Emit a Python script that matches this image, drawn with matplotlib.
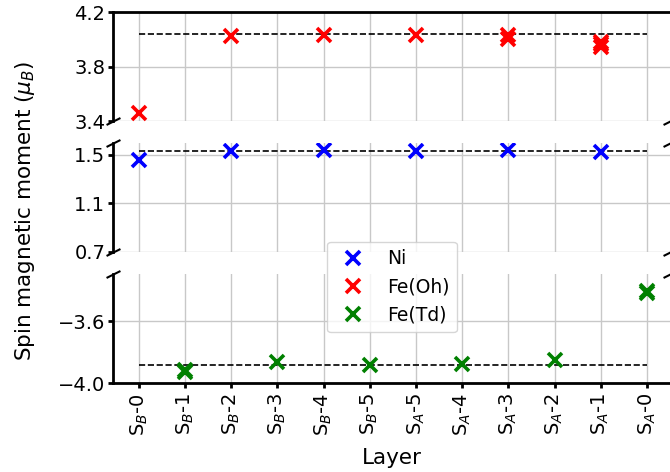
import matplotlib
matplotlib.use("Agg")
import matplotlib.pyplot as plt

# ---- data ----
layers = ["S$_B$-0", "S$_B$-1", "S$_B$-2", "S$_B$-3", "S$_B$-4", "S$_B$-5",
          "S$_A$-5", "S$_A$-4", "S$_A$-3", "S$_A$-2", "S$_A$-1", "S$_A$-0"]

ni_x = [0, 2, 4, 6, 8, 10]
ni_y = [1.459, 1.530, 1.536, 1.535, 1.540, 1.526]

feoh_x = [0, 2, 4, 6, 8, 8, 10, 10, 10]
feoh_y = [3.464, 4.025, 4.030, 4.030, 4.033, 4.003, 3.985, 3.965, 3.945]

fetd_x = [1, 1, 3, 5, 7, 9, 11, 11]
fetd_y = [-3.915, -3.928, -3.864, -3.885, -3.879, -3.853, -3.410, -3.420]

ref_oh = 4.04
ref_ni = 1.533
ref_td = -3.881

ylims = [(3.4, 4.2), (0.7, 1.6), (-4.0, -3.3)]
yticks = [[3.4, 3.8, 4.2], [0.7, 1.1, 1.5], [-4.0, -3.6]]
ytick_labels = [["3.4", "3.8", "4.2"], ["0.7", "1.1", "1.5"], ["\u22124.0", "\u22123.6"]]

# ---- figure ----
W, H = 670, 472
fig = plt.figure(figsize=(W / 100, H / 100), dpi=100)

left = 113 / W
width = 1.0 - left
tops_px = [12.3, 142.7, 274.3]
h_px = 109
axes = []
for t in tops_px:
    ax = fig.add_axes([left, 1 - (t + h_px) / H, width, h_px / H])
    axes.append(ax)
ax_top, ax_mid, ax_bot = axes

ms = 9.5
mew = 2.6
ax_mid.plot(ni_x, ni_y, 'x', color='blue', ms=ms, mew=mew, label='Ni', zorder=3)
ax_top.plot(feoh_x, feoh_y, 'x', color='red', ms=ms, mew=mew, label='Fe(Oh)', zorder=3)
ax_bot.plot(fetd_x, fetd_y, 'x', color='green', ms=ms, mew=mew, label='Fe(Td)', zorder=3)

for ax, ref in zip(axes, [ref_oh, ref_ni, ref_td]):
    ax.hlines(ref, 0, len(layers) - 1, colors='black', linestyles='--', lw=1.2, zorder=2)

xpos = list(range(len(layers)))
for i, ax in enumerate(axes):
    ax.set_xlim(-0.56, 11.5)
    ax.set_ylim(*ylims[i])
    ax.set_yticks(yticks[i])
    ax.set_yticklabels(ytick_labels[i])
    ax.set_xticks(xpos)
    ax.grid(True, color='#c8c8c8', lw=1.0, zorder=0)
    ax.set_axisbelow(True)
    for s in ['right', 'top', 'bottom']:
        ax.spines[s].set_visible(False)
    ax.spines['left'].set_linewidth(2.0)
    ax.tick_params(axis='y', labelsize=14, width=2.0, length=3.5, pad=2)
    ax.tick_params(axis='x', labelsize=14, width=2.0, length=3.5)
    if i < 2:
        ax.tick_params(axis='x', bottom=False, labelbottom=False)

ax_top.spines['top'].set_visible(True)
ax_top.spines['top'].set_linewidth(2.0)
ax_bot.spines['bottom'].set_visible(True)
ax_bot.spines['bottom'].set_linewidth(2.0)
ax_bot.set_xticklabels(layers, rotation=90)

# break marks
d = .5
kw = dict(marker=[(-1, -d), (1, d)], markersize=10, linestyle="none",
          color='k', mec='k', mew=1.5, clip_on=False)
ax_top.plot([0, 1], [0, 0], transform=ax_top.transAxes, **kw)
ax_mid.plot([0, 1], [1, 1], transform=ax_mid.transAxes, **kw)
ax_mid.plot([0, 1], [0, 0], transform=ax_mid.transAxes, **kw)
ax_bot.plot([0, 1], [1, 1], transform=ax_bot.transAxes, **kw)

fig.text(25 / W, 1 - 211 / H, "Spin magnetic moment ($\\mu_B$)", rotation=90,
         ha='center', va='center', fontsize=15.5)
fig.text(391.5 / W, 1 - 458 / H, "Layer", ha='center', va='center', fontsize=15.5)

handles = [ax_mid.lines[0], ax_top.lines[0], ax_bot.lines[0]]
fig.legend(handles, ['Ni', 'Fe(Oh)', 'Fe(Td)'], loc='upper center',
           bbox_to_anchor=(392 / W, 1 - 241.7 / H), borderaxespad=0,
           fontsize=13.5)

fig.savefig("out.png", dpi=100)
